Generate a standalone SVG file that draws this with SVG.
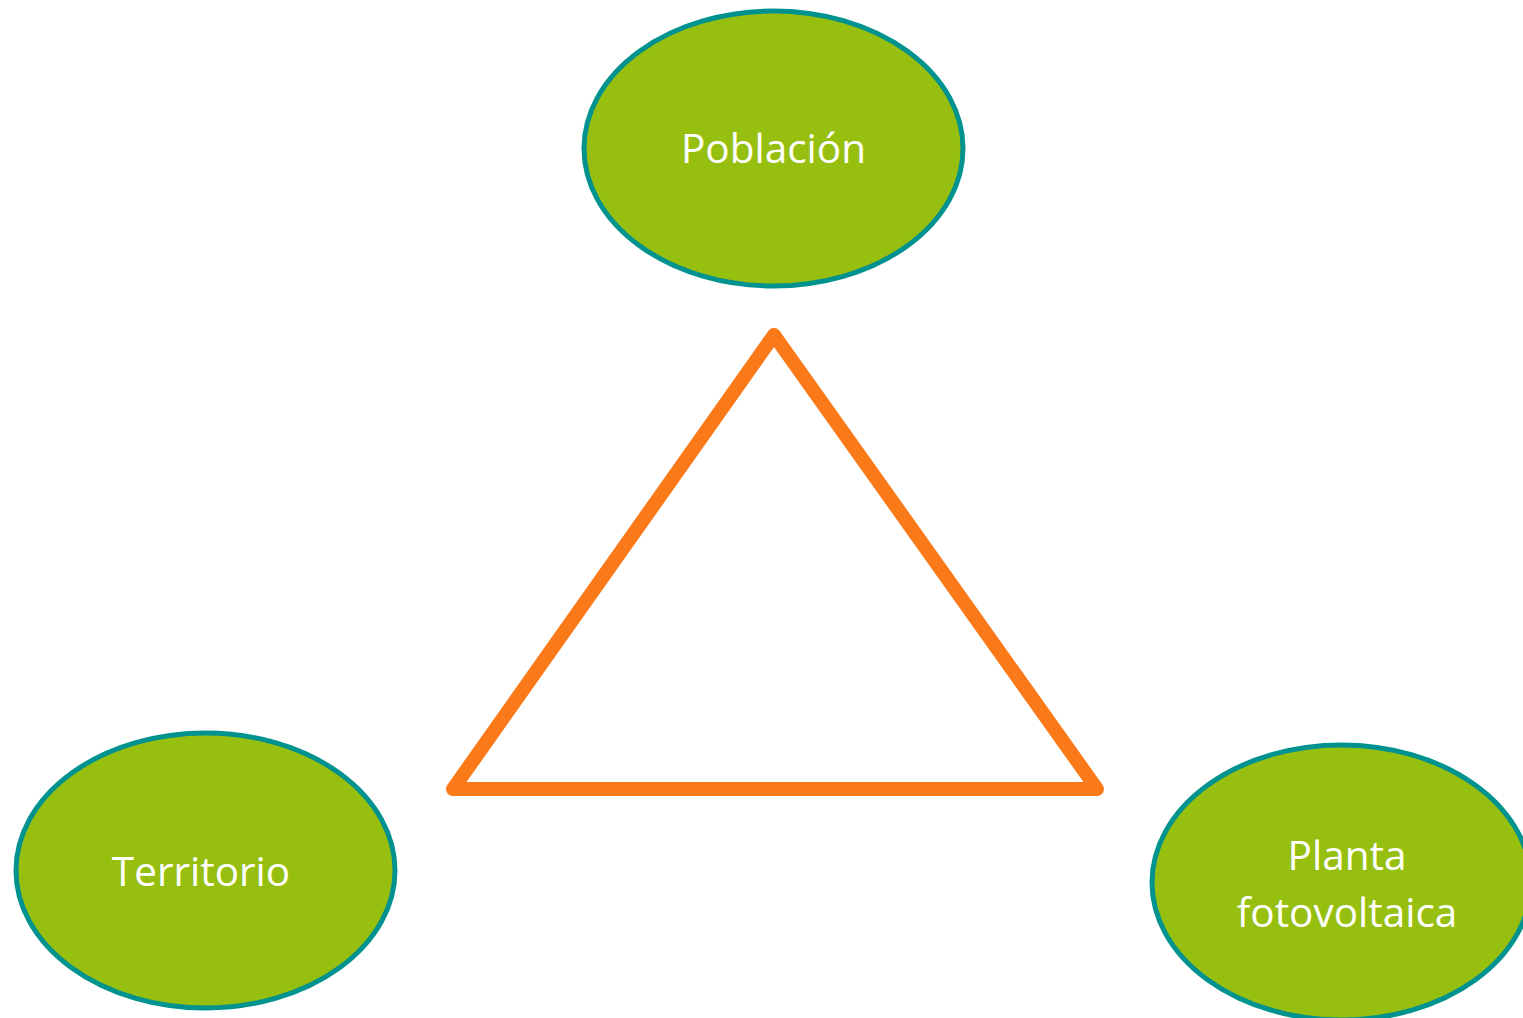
<svg xmlns="http://www.w3.org/2000/svg" width="1523" height="1018" viewBox="0 0 1523 1018">
<style>
.node ellipse{fill:#97BF0F;stroke:#00928F;stroke-width:5}
.node text{font-family:"Open Sans","Liberation Sans",sans-serif;font-size:40.5px;fill:#FFFFFF;text-anchor:middle}
.tri{fill:none;stroke:#FA7A1A;stroke-width:14;stroke-linejoin:round}
</style>
<rect width="1523" height="1018" fill="#FFFFFF"/>
<g id="connectors">
<polygon class="tri" points="774,335 453,789 1097,789"/>
</g>
<g id="poblacion" class="node">
<ellipse cx="773.5" cy="148.5" rx="189.5" ry="137.5"/>
<text x="773.5" y="163">Población</text>
</g>
<g id="territorio" class="node">
<ellipse cx="205.5" cy="870.5" rx="189.5" ry="137.5"/>
<text x="201" y="886">Territorio</text>
</g>
<g id="planta" class="node">
<ellipse cx="1341.5" cy="882.5" rx="189.5" ry="137.5"/>
<text x="1347" y="870">Planta</text>
<text x="1347" y="927">fotovoltaica</text>
</g>
</svg>
